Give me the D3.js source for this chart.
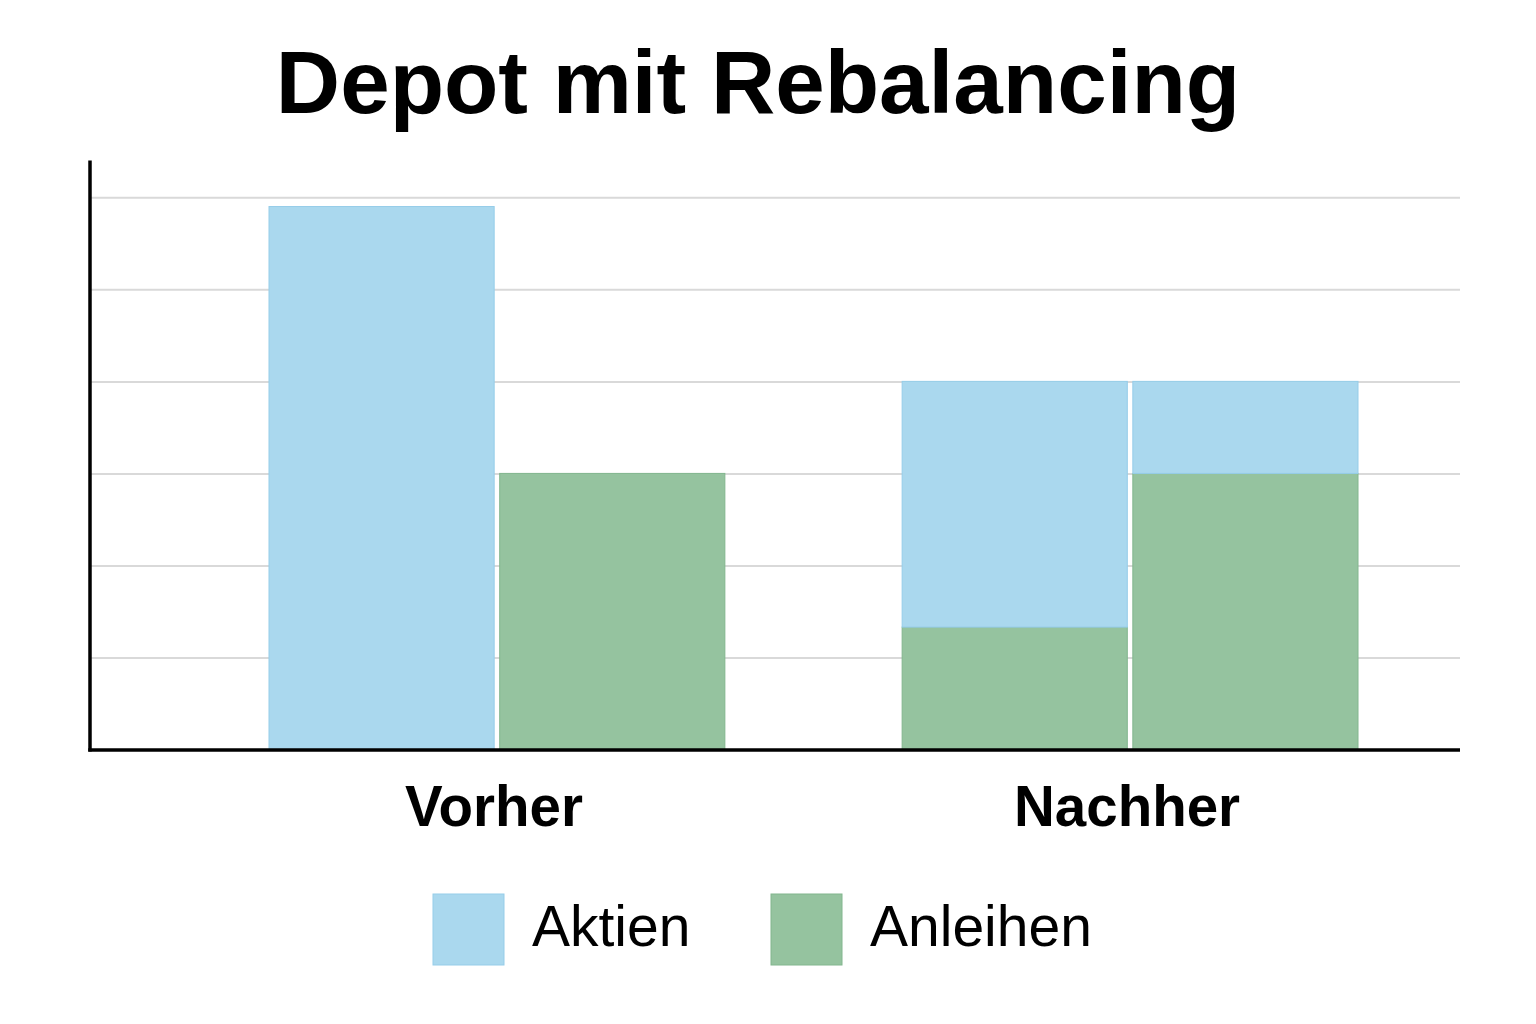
<!DOCTYPE html>
<html>
<head>
<meta charset="utf-8">
<script src="https://cdn.jsdelivr.net/npm/d3@7"></script>
<style>
  html, body { margin: 0; padding: 0; background: #ffffff; }
  svg { display: block; }
</style>
</head>
<body>
<svg id="chart" width="1536" height="1024"></svg>
<script>
// ---- data ----
const title = "Depot mit Rebalancing";
const groups = ["Vorher", "Nachher"];
const seriesKeys = ["Anleihen", "Aktien"];          // stack order (bottom -> top)
const legendKeys = ["Aktien", "Anleihen"];
const barGroup = ["Vorher", "Vorher", "Nachher", "Nachher"];
const barSlot = [0, 1, 0, 1];
const aktien = [59, 0, 26.7, 10];
const anleihen = [0, 30, 13.3, 30];
const gridTicks = [10, 20, 30, 40, 50, 60];
const yMax = 64;

// ---- setup ----
const svg = d3.select("#chart");
const colors = { Aktien: "#aad8ee", Anleihen: "#95c39f" };
const strokes = { Aktien: "#96cde9", Anleihen: "#82b68e" };

const plot = { left: 90, right: 1460, top: 160.5, bottom: 749.5 };

const y = d3.scaleLinear().domain([0, yMax]).range([plot.bottom, plot.top]);
const x = d3.scaleBand().domain(groups).range([269, 1358]).paddingInner(0.28).paddingOuter(0);
const xSub = d3.scaleBand().domain([0, 1]).range([0, x.bandwidth()]).paddingInner(0.024);

// title
svg.append("text")
  .attr("x", 758).attr("y", 113)
  .attr("text-anchor", "middle")
  .attr("font-family", "'Liberation Sans', Arial, sans-serif")
  .attr("font-weight", "bold")
  .attr("font-size", 89)
  .attr("fill", "#000")
  .text(title);

// gridlines
const grid = svg.append("g")
  .attr("transform", `translate(${plot.left},0)`)
  .call(d3.axisLeft(y).tickValues(gridTicks).tickSize(-(plot.right - plot.left)).tickFormat(""));
grid.select(".domain").remove();
grid.selectAll(".tick line").attr("stroke", "#d9d9d9").attr("stroke-width", 2);

// bars
const rows = aktien.map((v, i) => ({ group: barGroup[i], slot: barSlot[i], Aktien: v, Anleihen: anleihen[i] }));
const stacked = d3.stack().keys(seriesKeys)(rows);

stacked.forEach(layer => {
  svg.append("g").selectAll("rect")
    .data(layer.filter(d => d[1] - d[0] > 0))
    .join("rect")
    .attr("x", d => x(d.data.group) + xSub(d.data.slot))
    .attr("width", xSub.bandwidth())
    .attr("y", d => y(d[1]))
    .attr("height", d => y(d[0]) - y(d[1]))
    .attr("fill", colors[layer.key])
    .attr("stroke", strokes[layer.key])
    .attr("stroke-width", 1);
});

// axes lines
svg.append("line")
  .attr("x1", plot.left).attr("x2", plot.left)
  .attr("y1", plot.top).attr("y2", plot.bottom + 2)
  .attr("stroke", "#000").attr("stroke-width", 3.5);
svg.append("line")
  .attr("x1", plot.left - 1.75).attr("x2", plot.right)
  .attr("y1", plot.bottom + 0.5).attr("y2", plot.bottom + 0.5)
  .attr("stroke", "#000").attr("stroke-width", 3.5);

// x labels
const xa = svg.append("g")
  .attr("transform", `translate(0,${plot.bottom})`)
  .call(d3.axisBottom(x).tickSize(0).tickPadding(0));
xa.select(".domain").remove();
xa.selectAll(".tick text")
  .attr("y", 76)
  .attr("dy", 0)
  .attr("font-family", "'Liberation Sans', Arial, sans-serif")
  .attr("font-weight", "bold")
  .attr("font-size", 56.5)
  .attr("fill", "#000")
  .attr("transform", "translate(-3,0)");

// legend
const legendX = [433, 771];
const leg = svg.append("g");
legendKeys.forEach((k, i) => {
  leg.append("rect")
    .attr("x", legendX[i]).attr("y", 894)
    .attr("width", 71).attr("height", 71)
    .attr("fill", colors[k])
    .attr("stroke", strokes[k]).attr("stroke-width", 1);
  leg.append("text")
    .attr("x", legendX[i] + 99).attr("y", 946)
    .attr("font-family", "'Liberation Sans', Arial, sans-serif")
    .attr("font-size", 57)
    .attr("fill", "#000")
    .text(k);
});
</script>
</body>
</html>
